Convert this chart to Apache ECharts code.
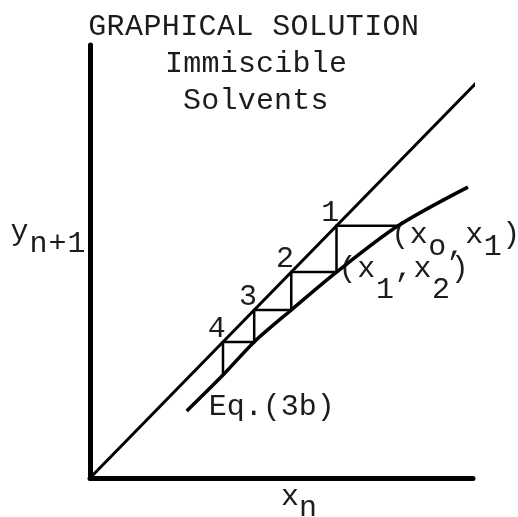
<!DOCTYPE html>
<html>
<head>
<meta charset="utf-8">
<script src="https://cdn.jsdelivr.net/npm/echarts@6/dist/echarts.min.js"></script>
<style>
  html, body { margin: 0; padding: 0; background: #fff; }
  #chart { width: 518px; height: 517px; }
</style>
</head>
<body>
<div id="chart"></div>
<script>
// Stage compositions x0..x5: each step runs from (x_n, x_n) on the diagonal
// down to (x_n, x_{n+1}) on the equilibrium curve.
const stages = [79.0, 63.2, 51.6, 42.1, 34.1, 25.8];
// Equilibrium curve, Eq.(3b): passes through the stage points
const curveX = [24.8, 34.1, 42.1, 51.6, 63.2, 79.0, 96.9];
const curveY = [16.8, 25.8, 34.1, 42.1, 51.6, 63.2, 72.9];
// Diagonal y = x
const diagonalX = [0, 100];
const stageLabels = ['1', '2', '3', '4'];
const titleLines = ['GRAPHICAL SOLUTION', 'Immiscible', 'Solvents'];

const INK = '#1c1c1c';
const FONT_SIZE = 30;
const FONT = FONT_SIZE + 'px "Liberation Mono", "DejaVu Sans Mono", monospace';
const MID_TO_BASE = 8; // distance from text middle to its baseline

const chart = echarts.init(document.getElementById('chart'), null, { renderer: 'canvas' });

const diagonal = diagonalX.map(v => [v, v]);
const curve = curveX.map((x, i) => [x, curveY[i]]);
const stairs = [[stages[0], stages[1]]];
for (let n = 1; n < stages.length - 1; n++) {
  stairs.push([stages[n], stages[n]]);
  stairs.push([stages[n], stages[n + 1]]);
}

const axisCommon = {
  type: 'value',
  min: 0,
  axisLine: { show: true, onZero: false, lineStyle: { color: '#000', width: 5, cap: 'round' } },
  axisTick: { show: false },
  axisLabel: { show: false },
  splitLine: { show: false }
};

chart.setOption({
  animation: false,
  backgroundColor: '#fff',
  grid: { left: 90, top: 45, right: 45, bottom: 39, containLabel: false },
  xAxis: Object.assign({}, axisCommon, { max: 98.2 }),
  yAxis: Object.assign({}, axisCommon, { max: 108.5 }),
  series: [
    {
      name: 'diagonal', type: 'line', data: diagonal, showSymbol: false, clip: false,
      lineStyle: { color: '#000', width: 3 }
    },
    {
      name: 'equilibrium', type: 'line', data: curve, showSymbol: false, clip: false,
      smooth: 0.3, lineStyle: { color: '#000', width: 3.5 }
    },
    {
      name: 'stages', type: 'line', data: stairs, showSymbol: false, clip: false,
      lineStyle: { color: '#000', width: 2.5, join: 'miter' }
    }
  ]
});

// Typewriter-style text: one character per fixed-pitch cell,
// segments can be shifted down like a half-line platen roll.
function typed(cellLeft, baseline, segments, pitch) {
  const out = [];
  let k = 0;
  segments.forEach(([txt, dy]) => {
    for (const ch of txt) {
      if (ch !== ' ') {
        out.push({
          type: 'text',
          silent: true,
          x: cellLeft + k * pitch + pitch / 2,
          y: baseline + (dy || 0) - MID_TO_BASE,
          style: {
            text: ch, font: FONT, fill: INK,
            align: 'center', verticalAlign: 'middle',
            textAlign: 'center', textVerticalAlign: 'middle'
          }
        });
      }
      k++;
    }
  });
  return out;
}

const px = p => chart.convertToPixel({ gridIndex: 0 }, p);

let elements = [];
// Heading
elements = elements.concat(typed(88, 35, [[titleLines[0], 0]], 18.4));
elements = elements.concat(typed(165, 72, [[titleLines[1], 0]], 18.2));
elements = elements.concat(typed(183, 109, [[titleLines[2], 0]], 18.2));
// Axis names
elements = elements.concat(typed(10, 240, [['y', 0], ['n+1', 12]], 19));
elements = elements.concat(typed(281, 505, [['x', 0], ['n', 11]], 18));

// Stage numbers beside the diagonal points
stageLabels.forEach((lab, i) => {
  const v = stages[i + 1];
  const [x, y] = px([v, v]);
  elements = elements.concat(typed(x + 3 - 18.4, y - 5, [[lab, 0]], 18.4));
});

// Points on the curve
{
  const [x, y] = px([stages[0], stages[1]]);
  elements = elements.concat(typed(x - 7, y + 17,
    [['(x', 0], ['o,', 12], ['x', 0], ['1', 12], [')', 0]], 18.5));
}
{
  const [x, y] = px([stages[1], stages[2]]);
  elements = elements.concat(typed(x + 1.75, y + 5,
    [['(x', 0], ['1', 21], [',x', 0], ['2', 21], [')', 0]], 18.7));
}
{
  const [x, y] = px(curve[0]);
  elements = elements.concat(typed(x + 22, y + 4, [['Eq.(3b)', 0]], 18));
}

chart.setOption({ graphic: { elements: elements } });
</script>
</body>
</html>
